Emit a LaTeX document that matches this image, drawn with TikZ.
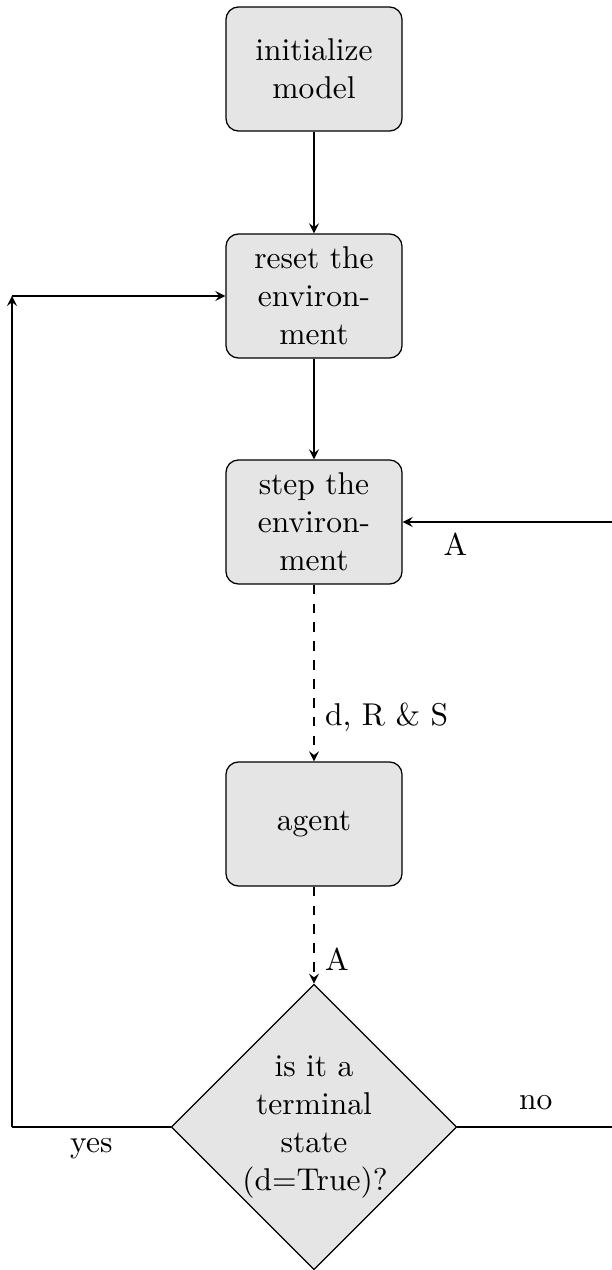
\documentclass[tikz,border=0pt]{standalone}
\usetikzlibrary{shapes.geometric,arrows}

\begin{document}
\begin{tikzpicture}[x=0.01116cm,y=-0.01116cm,
  block/.style={draw, rectangle, rounded corners, fill=gray!20, text width=1.73cm, align=center, minimum width=1.964cm, minimum height=1.384cm},
  decision/.style={draw, diamond, aspect=1, fill=gray!20, text width=1.6cm, align=center, inner sep=0pt, minimum width=3.17cm, minimum height=3.15cm},
  line/.style={draw, -stealth},
  dline/.style={draw, dashed, -stealth}]
\useasboundingbox (0,0) rectangle (612,1270);

\node[block] (init) at (314,69) {initialize model};
\node[block] (reset) at (314,296) {reset the environment};
\node[block] (step) at (314,522) {step the environment};
\node[block] (agent) at (314,824) {agent};
\node[decision] (term) at (314,1127) {is it a terminal state (d=True)?};

\coordinate (lb) at (12,1127);
\coordinate (lt) at (12,296);
\coordinate (rb) at (614,1127);
\coordinate (rt) at (614,522);

\path[line] (init) -- (reset);
\path[line] (reset) -- (step);
\path[dline] (step) -- node[pos=0.75, right] {d, R \& S} (agent);
\path[dline] (agent) -- node[pos=0.75, right] {A} (term);
\draw (term.west) -- node[below] {yes} (lb);
\path[line] (lb) -- (lt);
\path[line] (lt) -- (reset.west);
\draw (term.east) -- node[above=2pt] {no} (rb) -- (rt);
\path[line] (rt) -- node[pos=0.75, below] {A} (step.east);
\end{tikzpicture}
\end{document}
